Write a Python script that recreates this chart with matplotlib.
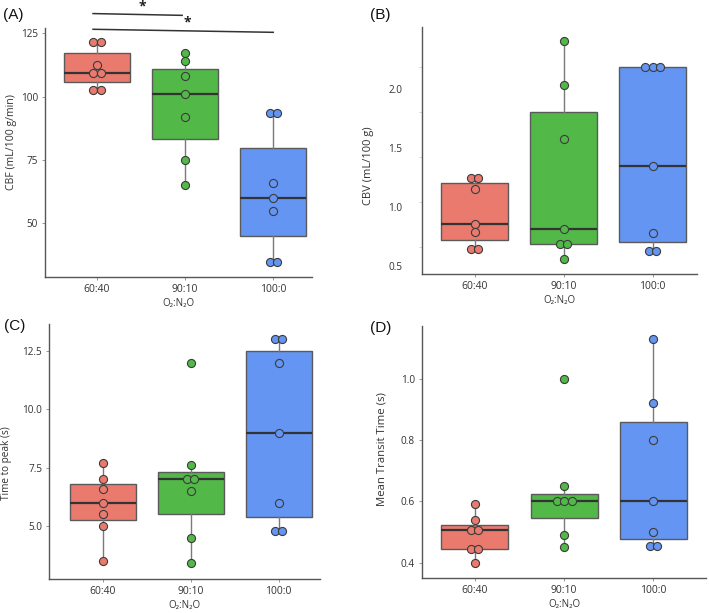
import matplotlib
matplotlib.use("Agg")
import matplotlib.pyplot as plt
import numpy as np

# ---- data -----------------------------------------------------------------
groups = ["60:40", "90:10", "100:0"]
colors = ["#EA7A6E", "#52B848", "#6495F2"]

cbf = {
    "60:40": [121.6, 121.6, 112.5, 109.4, 109.4, 102.5, 102.5],
    "90:10": [117.1, 113.9, 108.0, 100.9, 91.9, 75.0, 65.0],
    "100:0": [93.4, 93.4, 66.1, 60.0, 55.0, 34.6, 34.6],
}
cbv = {
    "60:40": [1.25, 1.25, 1.155, 0.855, 0.79, 0.64, 0.64],
    "90:10": [2.414, 2.037, 1.575, 0.815, 0.682, 0.682, 0.56],
    "100:0": [2.187, 2.187, 2.187, 1.351, 0.781, 0.622, 0.622],
}
ttp = {
    "60:40": [7.7, 7.0, 6.6, 6.0, 5.5, 5.0, 3.5],
    "90:10": [12.0, 7.6, 7.0, 7.0, 6.5, 4.5, 3.4],
    "100:0": [13.0, 13.0, 12.0, 9.0, 6.0, 4.8, 4.8],
}
mtt = {
    "60:40": [0.59, 0.54, 0.505, 0.505, 0.446, 0.446, 0.40],
    "90:10": [1.0, 0.65, 0.60, 0.60, 0.60, 0.489, 0.45],
    "100:0": [1.13, 0.92, 0.80, 0.60, 0.50, 0.454, 0.454],
}

# significance bars on panel A: (x_start, x_end, y_left, y_right, star_x, star_y)
sig_bars = [
    (-0.045, 0.966, 132.8, 132.1, 0.51, 135.6),
    (-0.045, 2.0, 126.6, 125.4, 1.02, 129.2),
]

# faint stray ticks on panel B's axis
cbv_ghost_ticks = [0.659, 1.042, 1.424, 1.807, 2.19]

plt.rcParams["font.family"] = ["Open Sans", "DejaVu Sans"]
XLABEL = "O\u2082:N\u2082O"
TEXT = "#333333"
DOT_STEP = 0.084  # horizontal spacing of tied points, in category units


def spread(values):
    """Place tied values side by side, centred on the category."""
    offs = np.zeros(len(values))
    vals = np.asarray(values)
    for v in np.unique(vals):
        idx = np.where(vals == v)[0]
        n = len(idx)
        offs[idx] = (np.arange(n) - (n - 1) / 2) * DOT_STEP
    return offs


def draw_panel(ax, data, ylabel, ylabel_size, ylim, yticks, fmt, xlim, label_pos):
    vals = [data[g] for g in groups]
    bp = ax.boxplot(
        vals, positions=range(len(groups)), widths=0.75, patch_artist=True,
        showfliers=False, showcaps=False, whis=1.5,
        boxprops=dict(edgecolor="#5a5a5a", linewidth=1.0),
        whiskerprops=dict(color="#7a7a7a", linewidth=1.0),
        medianprops=dict(color="#333333", linewidth=1.6),
    )
    for patch, c in zip(bp["boxes"], colors):
        patch.set_facecolor(c)

    for i, (g, c) in enumerate(zip(groups, colors)):
        v = np.asarray(data[g])
        ax.scatter(i + spread(v), v, s=34, color=c, edgecolor="#3c3c3c",
                   linewidth=0.8, zorder=5)

    ax.set_xlim(*xlim)
    ax.set_ylim(*ylim)
    ax.set_xticks(range(len(groups)))
    ax.set_xticklabels(groups, fontsize=7.5, color=TEXT)
    ax.set_yticks(yticks)
    ax.set_yticklabels([fmt.format(t) for t in yticks], fontsize=7.2, color=TEXT)
    ax.tick_params(axis="both", length=2, width=0.6, color="#888888", pad=3)
    ax.set_xlabel(XLABEL, fontsize=7, color=TEXT, labelpad=2)
    ax.set_ylabel(ylabel, fontsize=ylabel_size, color=TEXT)
    ax.yaxis.set_label_coords(*label_pos)
    for side in ("top", "right"):
        ax.spines[side].set_visible(False)
    for side in ("left", "bottom"):
        ax.spines[side].set_color("#555555")
        ax.spines[side].set_linewidth(1.0)
    return ax


fig = plt.figure(figsize=(7.09, 6.13), dpi=100)

axA = fig.add_axes([0.0635, 0.5481, 0.3766, 0.4062])
axB = fig.add_axes([0.5952, 0.5530, 0.3879, 0.4029])
axC = fig.add_axes([0.0691, 0.0555, 0.3822, 0.4160])
axD = fig.add_axes([0.5952, 0.0571, 0.4006, 0.4111])

draw_panel(axA, cbf, "CBF (mL/100 g/min)", 7.6, (28.8, 127.1), [50, 75, 100, 125],
           "{:.0f}", (-0.59, 2.44), (-0.105, 0.54))
draw_panel(axB, cbv, "CBV (mL/100 g)", 8.0, (0.43, 2.53), [0.5, 1.0, 1.5, 2.0],
           "{:.1f}", (-0.59, 2.5), (-0.175, 0.44))
draw_panel(axC, ttp, "Time to peak (s)", 7.2, (2.73, 13.66), [5.0, 7.5, 10.0, 12.5],
           "{:.1f}", (-0.61, 2.47), (-0.138, 0.455))
draw_panel(axD, mtt, "Mean Transit Time (s)", 8.2, (0.35, 1.172), [0.4, 0.6, 0.8, 1.0],
           "{:.1f}", (-0.59, 2.59), (-0.123, 0.51))

# panel B: labels sit further out, with faint stray ticks on the spine
axB.tick_params(axis="y", which="major", length=0, pad=14)
axB.set_yticks(cbv_ghost_ticks, minor=True)
axB.tick_params(axis="y", which="minor", length=2, width=0.6, color="#cccccc")

# significance bars on A
for x0, x1, y0, y1, sx, sy in sig_bars:
    axA.plot([x0, x1], [y0, y1], color="#333333", linewidth=1.1, clip_on=False)
    axA.text(sx, sy, "*", ha="center", va="center", fontsize=10,
             fontweight="bold", color="#222222", clip_on=False)

# panel letters
for x, y, t in [(0.004, 0.975, "(A)"), (0.522, 0.975, "(B)"),
                (0.006, 0.468, "(C)"), (0.522, 0.465, "(D)")]:
    fig.text(x, y, t, fontsize=11, family=["Liberation Sans", "DejaVu Sans"],
             va="center", ha="left", color="#111111")

fig.savefig("out.png", dpi=100)
